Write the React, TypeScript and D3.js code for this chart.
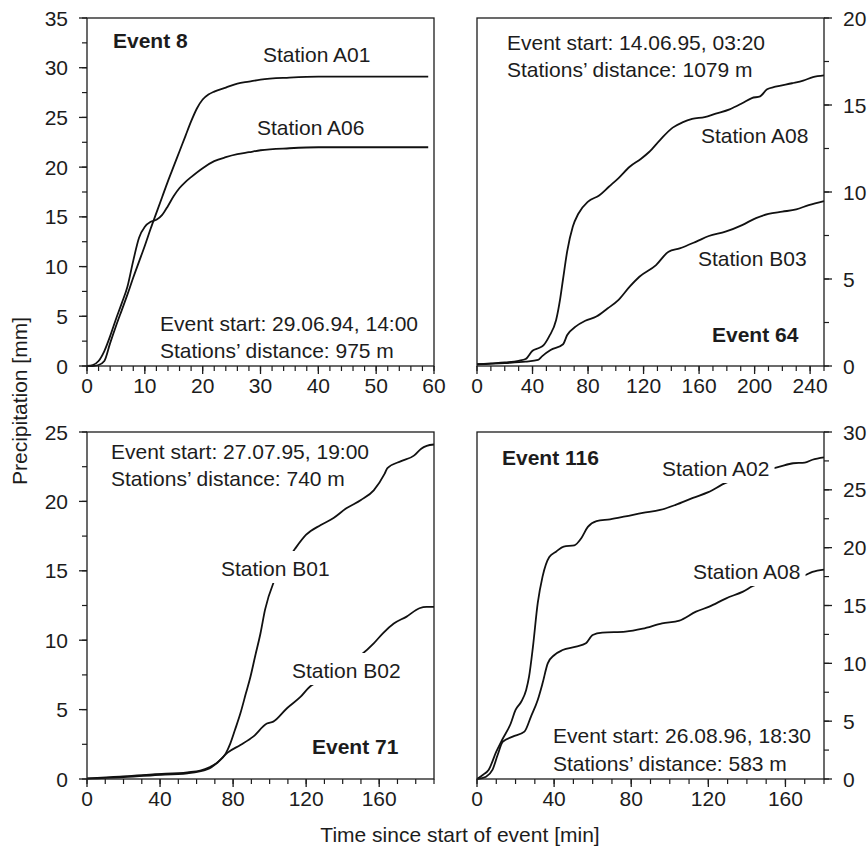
import React from "react";
import * as d3 from "d3";

// ---------- data (time [min], cumulative precipitation [mm]) ----------
const e8A01: [number, number][] = [
  [0, 0], [1, 0], [2, 0.1], [3, 0.5], [4, 2.3], [5, 4.0], [6, 5.6], [7, 7.2], [8, 8.9], [9, 10.5],
  [10, 12.1], [11, 13.8], [12, 15.4], [13, 17.0], [14, 18.6], [15, 20.1], [16, 21.6], [17, 23.1],
  [18, 24.6], [19, 25.9], [20, 26.8], [21, 27.3], [22, 27.6], [24, 28.0], [26, 28.4], [28, 28.6],
  [30, 28.8], [35, 29.0], [40, 29.1], [50, 29.1], [59, 29.1],
];
const e8A06: [number, number][] = [
  [0, 0], [1, 0.1], [2, 0.5], [3, 1.5], [4, 3.0], [5, 4.7], [6, 6.3], [7, 8.0], [8, 10.6], [9, 12.9],
  [10, 14.0], [11, 14.5], [12, 14.7], [13, 15.2], [14, 16.1], [15, 17.1], [16, 17.9], [17, 18.5],
  [18, 19.0], [20, 19.9], [22, 20.6], [24, 21.0], [26, 21.3], [28, 21.5], [30, 21.7], [35, 21.9],
  [40, 22.0], [59, 22.0],
];
const e64A08: [number, number][] = [
  [0, 0.1], [10, 0.15], [20, 0.2], [30, 0.3], [35, 0.4], [40, 0.88], [45, 1.05], [48, 1.2], [52, 1.7],
  [57, 2.64], [60, 3.9], [62, 5.0], [65, 6.6], [69, 8.0], [73, 8.75], [80, 9.45], [88, 9.8], [95, 10.3],
  [102, 10.8], [110, 11.45], [118, 11.9], [124, 12.3], [132, 13.0], [141, 13.7], [148, 14.0],
  [155, 14.2], [164, 14.3], [172, 14.5], [182, 14.75], [191, 15.1], [198, 15.4], [204, 15.5],
  [209, 15.9], [215, 16.05], [227, 16.25], [235, 16.4], [242, 16.6], [250, 16.7],
];
const e64B03: [number, number][] = [
  [0, 0.1], [20, 0.17], [35, 0.25], [44, 0.35], [47, 0.57], [53, 0.92], [62, 1.25], [65, 1.78],
  [71, 2.26], [78, 2.6], [86, 2.84], [94, 3.3], [102, 3.8], [110, 4.56], [117, 5.13], [129, 5.8],
  [138, 6.57], [146, 6.76], [158, 7.15], [167, 7.47], [179, 7.72], [191, 8.1], [201, 8.5],
  [210, 8.74], [220, 8.87], [230, 9.0], [239, 9.25], [250, 9.48],
];
const e71B01: [number, number][] = [
  [0, 0.05], [18, 0.17], [36, 0.34], [55, 0.48], [62, 0.6], [67, 0.84], [72, 1.25], [76, 1.85],
  [78.5, 2.57], [81, 3.53], [84, 4.73], [87, 6.17], [89.5, 7.37], [92, 8.81], [95, 10.5], [97.5, 12.2],
  [102, 14.1], [108, 15.4], [114, 16.6], [120, 17.6], [128, 18.3], [135, 18.8], [142, 19.5],
  [150, 20.1], [157, 20.8], [163, 22.0], [164.5, 22.4], [172, 22.9], [179, 23.3], [183, 23.8],
  [186, 24.0], [190, 24.1],
];
const e71B02: [number, number][] = [
  [0, 0.03], [18, 0.12], [36, 0.27], [55, 0.41], [66, 0.7], [71, 1.13], [77, 1.9], [84, 2.45],
  [91, 3.05], [98.5, 4.0], [102, 4.13], [109.5, 5.1], [117, 5.93], [122, 6.65], [125, 6.9],
  [137, 7.9], [150, 8.93], [157, 9.77], [162, 10.5], [168, 11.2], [175, 11.7], [182, 12.3],
  [186, 12.4], [190, 12.4],
];
const e116A02: [number, number][] = [
  [0, 0], [3, 0.35], [6, 0.78], [10, 2.36], [13, 3.37], [17.5, 4.8], [20, 5.97], [23, 6.7],
  [25.5, 7.7], [27, 8.85], [29, 11.4], [31.5, 15.2], [34, 17.5], [37.5, 19.2], [41, 19.65],
  [45, 20.1], [50.5, 20.2], [54, 20.8], [57.5, 21.8], [62, 22.3], [69, 22.45], [77, 22.7],
  [86, 23.0], [95, 23.26], [103, 23.7], [112, 24.3], [120, 24.8], [129, 25.6], [133, 25.85],
  [145, 26.5], [157, 27.0], [164, 27.3], [170, 27.35], [174, 27.6], [180, 27.8],
];
const e116A08: [number, number][] = [
  [0, 0], [4.7, 0.2], [8, 0.78], [10.7, 2.07], [13.3, 3.2], [18.5, 3.66], [24.6, 4.1], [28, 5.4],
  [31.5, 6.83], [34, 8.27], [36.7, 10.0], [40, 10.7], [44.4, 11.15], [51.4, 11.44], [56.5, 11.73],
  [60, 12.45], [65, 12.65], [77, 12.74], [86, 13.0], [96, 13.46], [105, 13.7], [113.6, 14.47],
  [120.5, 14.9], [129, 15.6], [138, 16.2], [145, 16.8], [152, 16.9], [160, 17.2], [170, 17.6],
  [174, 17.9], [180, 18.1],
];

// tick values
const e8XTicks = [0, 10, 20, 30, 40, 50, 60];
const e8YTicks = [0, 5, 10, 15, 20, 25, 30, 35];
const e64XTicks = [0, 40, 80, 120, 160, 200, 240];
const e64YTicks = [0, 5, 10, 15, 20];
const e71XTicks = [0, 40, 80, 120, 160];
const e71YTicks = [0, 5, 10, 15, 20, 25];
const e116XTicks = [0, 40, 80, 120, 160];
const e116YTicks = [0, 5, 10, 15, 20, 25, 30];

const FONT = "'Liberation Sans', Arial, Helvetica, sans-serif";
const FS = 21;
const INK = "#1c1c1c";

type Label = { text: string; x: number; y: number; bold?: boolean; knock?: boolean };
type Panel = {
  x0: number; x1: number; y0: number; y1: number;
  xMax: number; yMax: number; xMinor: number; yMinor: number;
  xTicks: number[]; yTicks: number[]; side: "left" | "right";
  series: [number, number][][]; labels: Label[];
};

const panels: Panel[] = [
  {
    x0: 87, x1: 434, y0: 18, y1: 366, xMax: 60, yMax: 35, xMinor: 2, yMinor: 2.5,
    xTicks: e8XTicks, yTicks: e8YTicks, side: "left", series: [e8A01, e8A06],
    labels: [
      { text: "Event 8", x: 113, y: 48, bold: true },
      { text: "Station A01", x: 263, y: 62 },
      { text: "Station A06", x: 257, y: 135 },
      { text: "Event start: 29.06.94, 14:00", x: 160, y: 331 },
      { text: "Stations\u2019 distance: 975 m", x: 160, y: 358 },
    ],
  },
  {
    x0: 477, x1: 824, y0: 18, y1: 366, xMax: 250, yMax: 20, xMinor: 10, yMinor: 2.5,
    xTicks: e64XTicks, yTicks: e64YTicks, side: "right", series: [e64A08, e64B03],
    labels: [
      { text: "Event start: 14.06.95, 03:20", x: 507, y: 50 },
      { text: "Stations\u2019 distance: 1079 m", x: 507, y: 77 },
      { text: "Station A08", x: 701, y: 143 },
      { text: "Station B03", x: 698, y: 266 },
      { text: "Event 64", x: 712, y: 342, bold: true },
    ],
  },
  {
    x0: 87, x1: 434, y0: 432, y1: 779, xMax: 190, yMax: 25, xMinor: 10, yMinor: 2.5,
    xTicks: e71XTicks, yTicks: e71YTicks, side: "left", series: [e71B01, e71B02],
    labels: [
      { text: "Event start: 27.07.95, 19:00", x: 111, y: 459 },
      { text: "Stations\u2019 distance: 740 m", x: 111, y: 486 },
      { text: "Station B01", x: 221, y: 576, knock: true },
      { text: "Station B02", x: 292, y: 678, knock: true },
      { text: "Event 71", x: 312, y: 754, bold: true },
    ],
  },
  {
    x0: 477, x1: 824, y0: 432, y1: 779, xMax: 180, yMax: 30, xMinor: 10, yMinor: 2.5,
    xTicks: e116XTicks, yTicks: e116YTicks, side: "right", series: [e116A02, e116A08],
    labels: [
      { text: "Event 116", x: 502, y: 465, bold: true },
      { text: "Station A02", x: 662, y: 476, knock: true },
      { text: "Station A08", x: 693, y: 579, knock: true },
      { text: "Event start: 26.08.96, 18:30", x: 553, y: 743 },
      { text: "Stations\u2019 distance: 583 m", x: 553, y: 771 },
    ],
  },
];

function PanelView({ p }: { p: Panel }) {
  const x = d3.scaleLinear().domain([0, p.xMax]).range([p.x0, p.x1]);
  const y = d3.scaleLinear().domain([0, p.yMax]).range([p.y1, p.y0]);
  const line = d3
    .line<[number, number]>()
    .x((d) => x(d[0]))
    .y((d) => y(d[1]))
    .curve(d3.curveMonotoneX);
  const xMinorTicks = d3.range(0, p.xMax + 1e-9, p.xMinor);
  const yMinorTicks = d3.range(0, p.yMax + 1e-9, p.yMinor);
  const axisX = p.side === "left" ? p.x0 : p.x1;
  const dir = p.side === "left" ? -1 : 1;
  return (
    <g>
      {p.series.map((s, i) => (
        <path key={i} d={line(s) || ""} fill="none" stroke="#111" strokeWidth={1.8} strokeLinejoin="round" />
      ))}
      {p.labels.filter((l) => l.knock).map((l, i) => (
        <rect key={"k" + i} x={l.x - 4} y={l.y - 25} width={FS * 5.17 + 8} height={32} fill="#fff" />
      ))}
      <rect x={p.x0} y={p.y0} width={p.x1 - p.x0} height={p.y1 - p.y0} fill="none" stroke={INK} strokeWidth={1.3} />
      {xMinorTicks.map((t) => (
        <line key={"xm" + t} x1={x(t)} x2={x(t)} y1={p.y1} y2={p.y1 + 5} stroke={INK} strokeWidth={1.2} />
      ))}
      {p.xTicks.map((t) => (
        <g key={"xt" + t}>
          <line x1={x(t)} x2={x(t)} y1={p.y1} y2={p.y1 + 8} stroke={INK} strokeWidth={1.3} />
          <text x={x(t)} y={p.y1 + 27} textAnchor="middle" fontSize={FS} fontFamily={FONT} fill={INK}>{t}</text>
        </g>
      ))}
      {yMinorTicks.map((t) => (
        <line key={"ym" + t} x1={axisX} x2={axisX + dir * 5} y1={y(t)} y2={y(t)} stroke={INK} strokeWidth={1.2} />
      ))}
      {p.yTicks.map((t) => (
        <g key={"yt" + t}>
          <line x1={axisX} x2={axisX + dir * 8} y1={y(t)} y2={y(t)} stroke={INK} strokeWidth={1.3} />
          <text
            x={axisX + dir * 19}
            y={y(t)}
            dy="0.36em"
            textAnchor={p.side === "left" ? "end" : "start"}
            fontSize={FS}
            fontFamily={FONT}
            fill={INK}
          >
            {t}
          </text>
        </g>
      ))}
      {p.labels.map((l, i) => (
        <text key={"l" + i} x={l.x} y={l.y} fontSize={FS} fontFamily={FONT} fontWeight={l.bold ? "bold" : "normal"} fill={INK}>
          {l.text}
        </text>
      ))}
    </g>
  );
}

export default function App() {
  return (
    <svg width={868} height={848} style={{ position: "absolute", left: 0, top: 0, background: "#fff" }}>
      <rect width={868} height={848} fill="#fff" />
      {panels.map((p, i) => (
        <PanelView key={i} p={p} />
      ))}
      <text
        transform="translate(27,401) rotate(-90)"
        textAnchor="middle"
        fontSize={FS}
        fontFamily={FONT}
        fill={INK}
      >
        Precipitation [mm]
      </text>
      <text x={460} y={842} textAnchor="middle" fontSize={FS} fontFamily={FONT} fill={INK}>
        Time since start of event [min]
      </text>
    </svg>
  );
}
